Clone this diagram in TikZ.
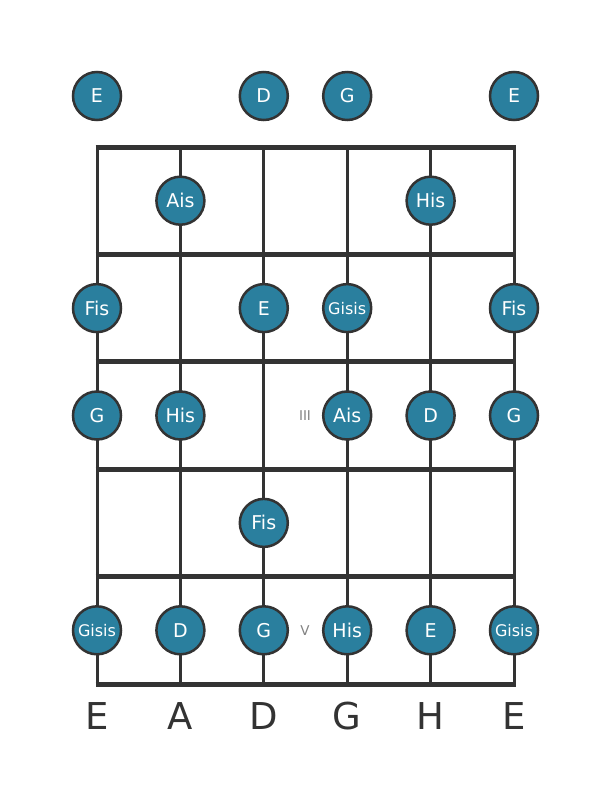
\documentclass[tikz,border=0pt]{standalone}
\usepackage{fontspec}
\setmainfont{DejaVu Sans}
\definecolor{dotfill}{RGB}{42,127,158}
\definecolor{linecol}{RGB}{51,51,51}
\definecolor{numcol}{RGB}{130,130,130}
\begin{document}
\begin{tikzpicture}[x=1pt,y=-1pt,
  fretline/.style={line width=5pt,draw=linecol},
  stringline/.style={line width=3pt,draw=linecol},
  notedot/.style={circle,fill=dotfill,draw=linecol,line width=2.5pt,minimum size=48pt,inner sep=0pt,text=white,font=\fontsize{19}{19}\selectfont},
  smalldot/.style={notedot,font=\fontsize{16}{16}\selectfont},
  strname/.style={text=linecol,font=\fontsize{37}{37}\selectfont},
  posnum/.style={text=numcol,font=\fontsize{13.5}{13.5}\selectfont}]
\useasboundingbox (0,0) rectangle (611,801);
% strings
\foreach \i/\x in {1/97,2/180.4,3/263.8,4/347.2,5/430.6,6/514}{
  \coordinate (st\i) at (\x,147);
  \coordinate (sb\i) at (\x,684);
  \draw[stringline] (st\i) -- (sb\i);
}
% frets
\foreach \j/\y in {0/147,1/254.4,2/361.8,3/469.2,4/576.6,5/684}{
  \coordinate (fl\j) at (95.5,\y);
  \coordinate (fr\j) at (515.5,\y);
  \draw[fretline] (fl\j) -- (fr\j);
}
% open strings
\node[notedot] (o1) at (97,96) {E};
\node[notedot] (o3) at (263.8,96) {D};
\node[notedot] (o4) at (347.2,96) {G};
\node[notedot] (o6) at (514,96) {E};
% fret 1
\node[notedot] (a2) at (180.4,200.7) {Ais};
\node[notedot] (a5) at (430.6,200.7) {His};
% fret 2
\node[notedot] (b1) at (97,308.1) {Fis};
\node[notedot] (b3) at (263.8,308.1) {E};
\node[smalldot] (b4) at (347.2,308.1) {Gisis};
\node[notedot] (b6) at (514,308.1) {Fis};
% fret 3
\node[notedot] (c1) at (97,415.5) {G};
\node[notedot] (c2) at (180.4,415.5) {His};
\node[notedot] (c4) at (347.2,415.5) {Ais};
\node[notedot] (c5) at (430.6,415.5) {D};
\node[notedot] (c6) at (514,415.5) {G};
\node[posnum] (n3) at (305,415.5) {III};
% fret 4
\node[notedot] (d3) at (263.8,522.9) {Fis};
% fret 5
\node[smalldot] (e1) at (97,630.3) {Gisis};
\node[notedot] (e2) at (180.4,630.3) {D};
\node[notedot] (e3) at (263.8,630.3) {G};
\node[notedot] (e4) at (347.2,630.3) {His};
\node[notedot] (e5) at (430.6,630.3) {E};
\node[smalldot] (e6) at (514,630.3) {Gisis};
\node[posnum] (n5) at (305,630.3) {V};
% string names
\foreach \i/\x/\t in {1/97/E,2/180.4/A,3/263.8/D,4/347.2/G,5/430.6/H,6/514/E}{
  \node[strname] (name\i) at (\x,716) {\t};
}
\end{tikzpicture}
\end{document}
